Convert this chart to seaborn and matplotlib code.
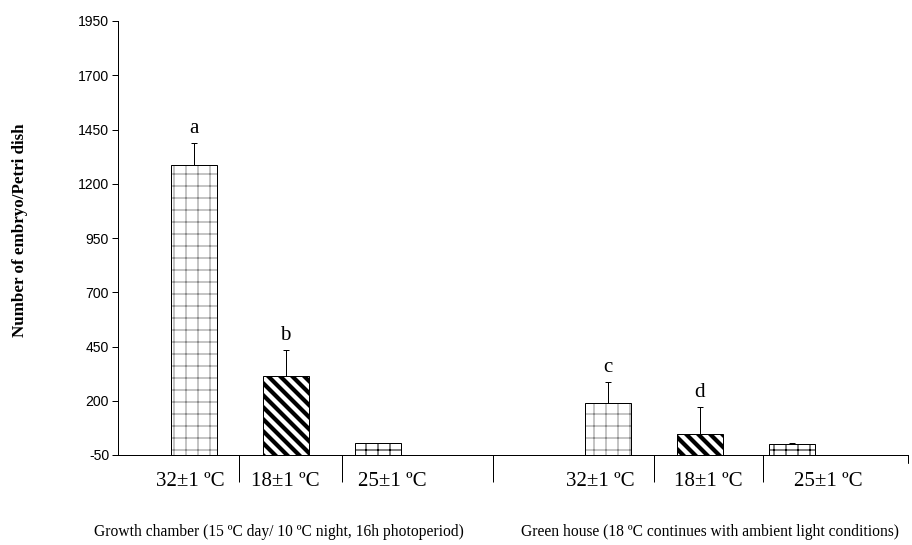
import matplotlib
matplotlib.use("Agg")
import matplotlib.pyplot as plt
import seaborn as sns
import pandas as pd
import numpy as np

# ---- data ----
conditions = ["32±1 ºC", "18±1 ºC", "25±1 ºC", "32±1 ºC", "18±1 ºC", "25±1 ºC"]
environment = ["Growth chamber", "Growth chamber", "Growth chamber",
               "Green house", "Green house", "Green house"]
embryos = [1287, 312, 3, 189, 46, 2]
errors = [100, 120, 3, 97, 123, 3]
letters = ["a", "b", "", "c", "d", ""]
group_labels = ["Growth chamber (15 ºC day/ 10 ºC night, 16h photoperiod)",
                "Green house (18 ºC continues with ambient light conditions)"]
y_ticks = [-50, 200, 450, 700, 950, 1200, 1450, 1700, 1950]
y_label = "Number of embryo/Petri dish"

# ---- layout (positions on the category axis) ----
xpos = [0, 1, 2, 4.5, 5.5, 6.5]
label_pos = [-0.03, 1.0, 2.16, 4.42, 5.6, 6.9]
sep_pos = [0.495, 1.61, 3.26, 5.0, 6.19]
baseline = -50

df = pd.DataFrame({"x": xpos, "embryos": embryos, "cond": conditions, "env": environment})

sns.set_theme(style="white")
plt.rcParams["font.family"] = ["Liberation Serif", "DejaVu Serif"]

DPI = 72
fig = plt.figure(figsize=(912 / DPI, 545 / DPI), dpi=DPI)
L, R, T, B = 118, 908, 21, 455
ax = fig.add_axes([L / 912, 1 - B / 545, (R - L) / 912, (B - T) / 545])

# hatched fills
sns.barplot(data=df, x="x", y="embryos", native_scale=True, width=0.5,
            color="white", linewidth=0, errorbar=None, ax=ax)
n = len(embryos)
fills = list(ax.patches[:n])
# outlines
sns.barplot(data=df, x="x", y="embryos", native_scale=True, width=0.5,
            fill=False, color="black", linewidth=1.0, errorbar=None, ax=ax)
outlines = list(ax.patches[n:2 * n])

hatches = ["+", "\\\\", "+", "+", "\\\\", "+"]
hcolors = ["#8c8c8c", "black", "black", "#8c8c8c", "black", "black"]
hlw = [1.0, 4.2, 1.0, 1.0, 4.2, 1.0]
for p, v, h, hc, lw in zip(fills, embryos, hatches, hcolors, hlw):
    p.set_y(baseline)
    p.set_height(v - baseline)
    p.set_facecolor("white")
    p.set_edgecolor(hc)
    p.set_linewidth(0)
    p.set_hatch(h)
    try:
        p.set_hatch_linewidth(lw)
    except Exception:
        pass
for p, v in zip(outlines, embryos):
    p.set_y(baseline)
    p.set_height(v - baseline)
    p.set_edgecolor("black")
    p.set_facecolor("none")
    p.set_linewidth(1.0)

ax.errorbar(xpos, embryos, yerr=[np.zeros(len(errors)), errors], fmt="none",
            ecolor="black", elinewidth=1.0, capsize=3, capthick=1.0, zorder=3)

for x, v, e, t in zip(xpos, embryos, errors, letters):
    if t:
        ax.annotate(t, xy=(x, v + e), xytext=(0, 10), textcoords="offset points",
                    ha="center", va="baseline", fontsize=21, color="black")

ax.set_xlim(-0.8207, 7.766)
ax.set_ylim(-50, 1950)
ax.set_yticks(y_ticks)
ax.set_yticklabels([str(t) for t in y_ticks], family=["Liberation Sans", "DejaVu Sans"],
                   fontsize=14, color="black")
ax.tick_params(axis="y", direction="out", length=6, width=1, color="black", left=True, pad=3)

ax.set_xticks(label_pos)
ax.set_xticklabels(conditions, fontsize=21, color="black")
ax.set_xticks(sep_pos, minor=True)
ax.tick_params(axis="x", which="major", length=0, pad=17)
ax.tick_params(axis="x", which="minor", direction="out", length=27, width=1,
               color="black", bottom=True)
ax.set_xlabel("")
ax.plot([1, 1], [0, -8 / (B - T)], transform=ax.transAxes, color="black",
        lw=1, clip_on=False)

for s in ["top", "right"]:
    ax.spines[s].set_visible(False)
for s in ["left", "bottom"]:
    ax.spines[s].set_color("black")
    ax.spines[s].set_linewidth(1.0)

ax.set_ylabel(y_label, fontsize=17, fontweight="bold", color="black")
ax.yaxis.set_label_coords(-0.114, 0.517)

fig.text(279 / 912, 1 - 532 / 545, group_labels[0], ha="center", va="center",
         fontsize=15.5, color="black")
fig.text(710 / 912, 1 - 532 / 545, group_labels[1], ha="center", va="center",
         fontsize=15.5, color="black")

fig.savefig("out.png", dpi=DPI, facecolor="white")
